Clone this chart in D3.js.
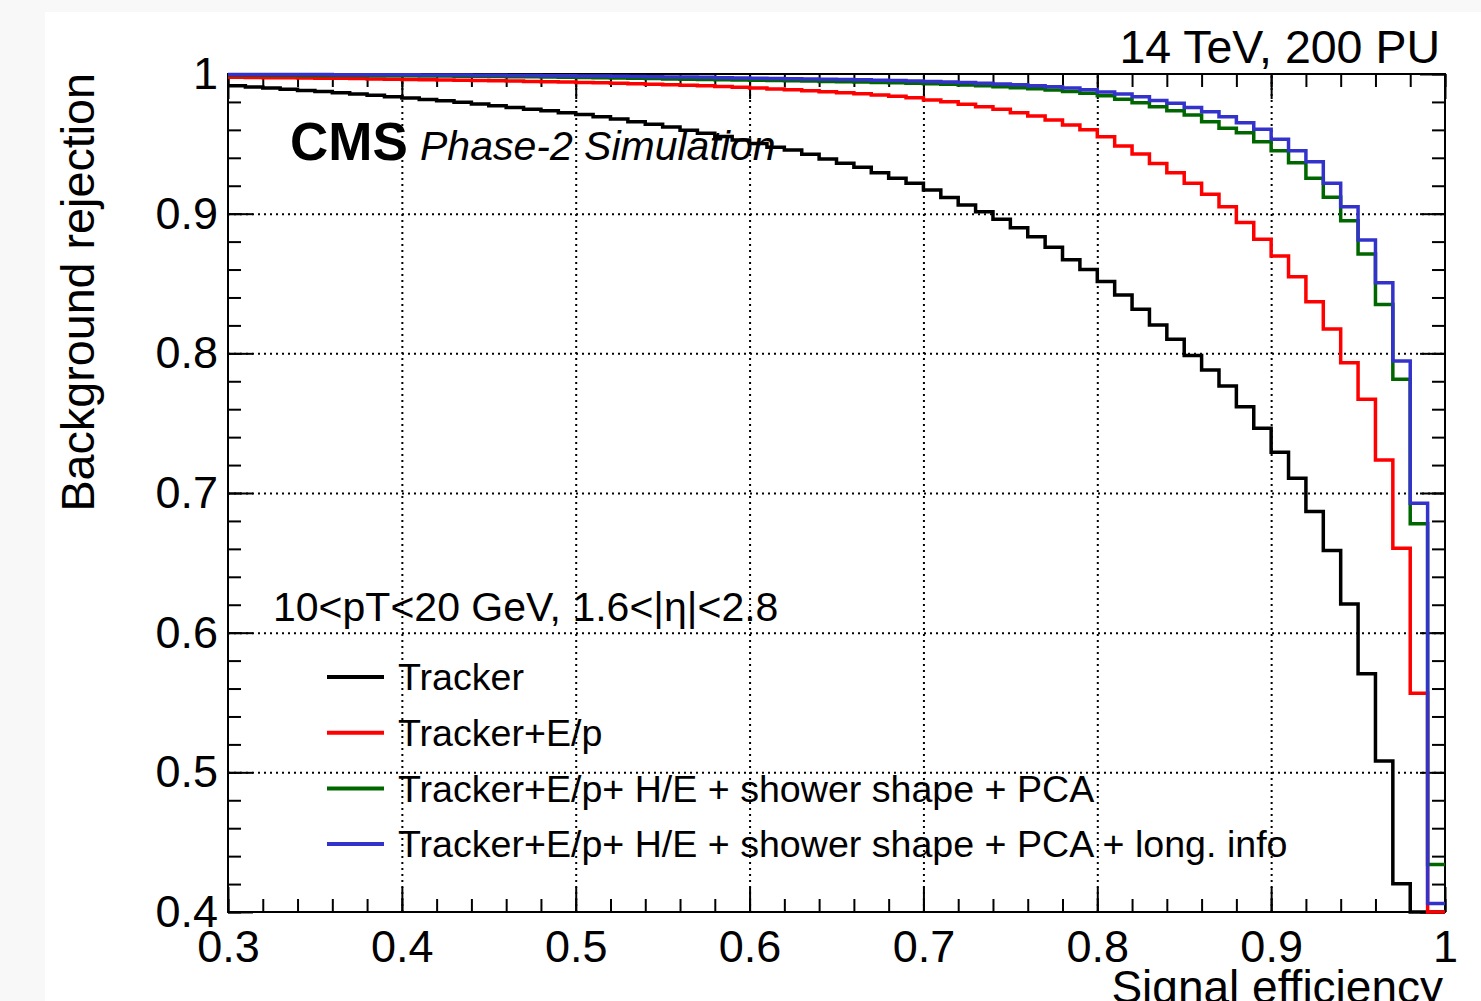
<!DOCTYPE html>
<html>
<head>
<meta charset="utf-8">
<script src="https://cdn.jsdelivr.net/npm/d3@7"></script>
<style>
  body { margin: 0; background: #f8f8f8; }
  text { font-family: "Liberation Sans", Arial, Helvetica, sans-serif; }
</style>
</head>
<body>
<div id="roc"></div>
<script>
// binning of the efficiency histograms (low edge of first bin, bin width)
var binLow = 0.30, binWidth = 0.01;

// background rejection per signal-efficiency bin, 0.30 ... 0.99
var tracker = [
  0.9915, 0.9907, 0.9899, 0.9891, 0.9882, 0.9874, 0.9865, 0.9856, 0.9847, 0.9838,
  0.9828, 0.9818, 0.9808, 0.9797, 0.9786, 0.9772, 0.9760, 0.9748, 0.9736, 0.9723,
  0.9710, 0.9694, 0.9677, 0.9659, 0.9640, 0.9620, 0.9598, 0.9576, 0.9553, 0.9528,
  0.9502, 0.9475, 0.9456, 0.9425, 0.9392, 0.9361, 0.9332, 0.9293, 0.9253, 0.9218,
  0.9170, 0.9115, 0.9062, 0.9014, 0.8960, 0.8900, 0.8835, 0.8760, 0.8670, 0.8600,
  0.8515, 0.8418, 0.8316, 0.8203, 0.8100, 0.7985, 0.7881, 0.7767, 0.7618, 0.7464,
  0.7292, 0.7106, 0.6867, 0.6588, 0.6206, 0.5705, 0.5082, 0.4202, 0.3990, 0.3900
];
var trackerEp = [
  0.9976, 0.9975, 0.9974, 0.9973, 0.9971, 0.9970, 0.9969, 0.9967, 0.9965, 0.9963,
  0.9961, 0.9959, 0.9957, 0.9955, 0.9953, 0.9951, 0.9949, 0.9947, 0.9945, 0.9943,
  0.9940, 0.9937, 0.9934, 0.9931, 0.9927, 0.9923, 0.9919, 0.9915, 0.9910, 0.9905,
  0.9899, 0.9893, 0.9887, 0.9880, 0.9873, 0.9866, 0.9858, 0.9849, 0.9840, 0.9830,
  0.9814, 0.9802, 0.9783, 0.9766, 0.9747, 0.9723, 0.9699, 0.9671, 0.9635, 0.9600,
  0.9550, 0.9485, 0.9427, 0.9360, 0.9293, 0.9218, 0.9139, 0.9050, 0.8936, 0.8817,
  0.8697, 0.8549, 0.8370, 0.8175, 0.7933, 0.7671, 0.7237, 0.6605, 0.5567, 0.3980
];
var trackerEpShower = [
  0.9992, 0.9992, 0.9991, 0.9991, 0.9990, 0.9990, 0.9989, 0.9989, 0.9988, 0.9987,
  0.9987, 0.9986, 0.9985, 0.9984, 0.9983, 0.9982, 0.9981, 0.9980, 0.9978, 0.9977,
  0.9975, 0.9973, 0.9971, 0.9969, 0.9967, 0.9965, 0.9963, 0.9961, 0.9959, 0.9957,
  0.9955, 0.9953, 0.9951, 0.9949, 0.9947, 0.9945, 0.9943, 0.9940, 0.9937, 0.9934,
  0.9930, 0.9926, 0.9921, 0.9915, 0.9909, 0.9902, 0.9894, 0.9885, 0.9875, 0.9863,
  0.9845, 0.9820, 0.9795, 0.9766, 0.9737, 0.9707, 0.9659, 0.9611, 0.9580, 0.9515,
  0.9451, 0.9365, 0.9253, 0.9117, 0.8950, 0.8712, 0.8350, 0.7815, 0.6779, 0.4340
];
var trackerEpShowerLong = [
  0.9997, 0.9997, 0.9997, 0.9996, 0.9996, 0.9996, 0.9995, 0.9995, 0.9995, 0.9994,
  0.9994, 0.9993, 0.9993, 0.9992, 0.9991, 0.9991, 0.9990, 0.9989, 0.9988, 0.9987,
  0.9986, 0.9985, 0.9984, 0.9982, 0.9981, 0.9979, 0.9978, 0.9976, 0.9974, 0.9972,
  0.9970, 0.9968, 0.9966, 0.9964, 0.9962, 0.9960, 0.9958, 0.9956, 0.9953, 0.9950,
  0.9947, 0.9943, 0.9939, 0.9934, 0.9929, 0.9923, 0.9916, 0.9908, 0.9899, 0.9888,
  0.9871, 0.9857, 0.9838, 0.9810, 0.9790, 0.9760, 0.9730, 0.9694, 0.9651, 0.9604,
  0.9533, 0.9451, 0.9372, 0.9218, 0.9050, 0.8812, 0.8506, 0.7946, 0.6927, 0.4060
];

var seriesNames = [
  "Tracker",
  "Tracker+E/p",
  "Tracker+E/p+ H/E + shower shape + PCA",
  "Tracker+E/p+ H/E + shower shape + PCA + long. info"
];
var seriesValues = [tracker, trackerEp, trackerEpShower, trackerEpShowerLong];
var seriesColors = ["#000000", "#ff0000", "#006600", "#3333cc"];

var xTicks = [0.3, 0.4, 0.5, 0.6, 0.7, 0.8, 0.9, 1.0];
var yTicks = [0.4, 0.5, 0.6, 0.7, 0.8, 0.9, 1.0];

// set the dimensions and margins of the graph
var margin = {top: 74, right: 36, bottom: 89, left: 228},
    width = 1481 - margin.left - margin.right,
    height = 1001 - margin.top - margin.bottom;

var root = d3.select("div#roc")
  .append("svg")
    .attr("width", 1481)
    .attr("height", 1001)
    .style("display", "block");

// white canvas
root.append("rect")
  .attr("x", 45).attr("y", 12)
  .attr("width", 1481 - 45).attr("height", 1001 - 12)
  .attr("fill", "#ffffff");

var svg = root.append("g")
  .attr("transform", "translate(" + margin.left + "," + margin.top + ")");

var x = d3.scaleLinear().domain([0.3, 1.0]).range([0, width]);
var y = d3.scaleLinear().domain([0.4, 1.0]).range([height, 0]);

var fmt = d => d === 1 ? "1" : d.toFixed(1);

// dotted grid
var grid = svg.append("g");
grid.append("g")
  .attr("transform", "translate(0," + height + ")")
  .call(d3.axisBottom(x).tickValues(xTicks.slice(1, -1)).tickSize(-height).tickFormat(""));
grid.append("g")
  .call(d3.axisLeft(y).tickValues(yTicks.slice(1, -1)).tickSize(-width).tickFormat(""));
grid.selectAll(".domain").remove();
grid.selectAll("line")
  .attr("stroke", "#000")
  .attr("stroke-width", 2)
  .attr("stroke-dasharray", "2,4");

// frame
svg.append("rect")
  .attr("width", width).attr("height", height)
  .attr("fill", "none").attr("stroke", "#000").attr("stroke-width", 2);

// axes: major and minor ticks on all four sides
function ticks(g, axis, major, minor, labels, pad) {
  g.append("g").call(axis.tickValues(major).tickSize(-25).tickPadding(pad).tickFormat(labels ? fmt : ""));
  g.append("g").call(axis.tickValues(minor).tickSize(-13).tickFormat(""));
  g.selectAll(".domain").remove();
  g.selectAll("line").attr("stroke", "#000").attr("stroke-width", 2);
  g.selectAll("text")
    .attr("fill", "#000")
    .style("font-size", "45px")
    .style("font-family", "'Liberation Sans', Arial, sans-serif");
}
ticks(svg.append("g").attr("transform", "translate(0," + height + ")"),
      d3.axisBottom(x), xTicks, x.ticks(35), true, 18);
ticks(svg.append("g"), d3.axisTop(x), xTicks, x.ticks(35), false, 0);
ticks(svg.append("g"), d3.axisLeft(y), yTicks, y.ticks(30), true, 10);
ticks(svg.append("g").attr("transform", "translate(" + width + ",0)"),
      d3.axisRight(y), yTicks, y.ticks(30), false, 0);

// ROC curves drawn as histograms
var line = d3.line()
  .x(d => x(d.x))
  .y(d => y(Math.max(d.v, 0.4)))
  .curve(d3.curveStepAfter);

seriesValues.forEach((vals, k) => {
  var pts = vals.map((v, i) => ({x: binLow + i * binWidth, v: v}));
  pts.push({x: binLow + vals.length * binWidth, v: vals[vals.length - 1]});
  svg.append("path")
    .datum(pts)
    .attr("fill", "none")
    .attr("stroke", seriesColors[k])
    .attr("stroke-width", 3.5)
    .attr("stroke-linejoin", "miter")
    .attr("d", line);
});

// legend
var legend = svg.append("g").attr("transform", "translate(99,603)");
seriesNames.forEach((name, k) => {
  var row = legend.append("g").attr("transform", "translate(0," + (k * 55.7) + ")");
  row.append("line")
    .attr("x1", 0).attr("x2", 57)
    .attr("stroke", seriesColors[k]).attr("stroke-width", 4);
  row.append("text")
    .attr("x", 71).attr("dy", "0.35em")
    .style("font-size", "37.6px")
    .text(name);
});

// labels
root.append("text")
  .attr("x", 290).attr("y", 160)
  .style("font-size", "53px").style("font-weight", "bold")
  .text("CMS");
root.append("text")
  .attr("x", 420).attr("y", 160)
  .style("font-size", "41px").style("font-style", "italic")
  .text("Phase-2 Simulation");
root.append("text")
  .attr("x", 1440).attr("y", 63)
  .attr("text-anchor", "end")
  .style("font-size", "46.5px")
  .text("14 TeV, 200 PU");
root.append("text")
  .attr("x", 273).attr("y", 621)
  .style("font-size", "41px")
  .text("10<pT<20 GeV, 1.6<|η|<2.8");

// axis titles
root.append("text")
  .attr("x", 1443).attr("y", 1003)
  .attr("text-anchor", "end")
  .style("font-size", "46px")
  .text("Signal efficiency");
root.append("text")
  .attr("transform", "translate(94,73) rotate(-90)")
  .attr("text-anchor", "end")
  .style("font-size", "46.7px")
  .text("Background rejection");
</script>
</body>
</html>
